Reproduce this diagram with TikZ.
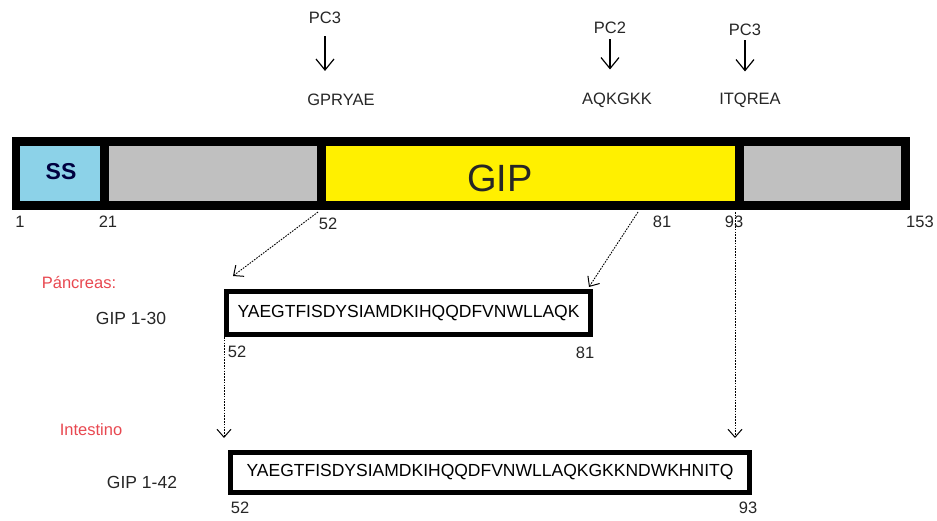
\documentclass[tikz,border=0pt]{standalone}
\usepackage{fontspec}
\setmainfont{Liberation Sans}
\usepackage{tikz}
\usetikzlibrary{calc,arrows.meta}
\definecolor{rojo}{RGB}{232,72,80}
\definecolor{celeste}{RGB}{140,210,232}
\definecolor{gris}{RGB}{192,192,192}
\definecolor{amarillo}{RGB}{255,240,0}

\begin{document}
\begin{tikzpicture}[x=1pt,y=-1pt,
  lbl/.style={inner sep=0pt, text=black!85, font=\fontsize{16.5}{18}\selectfont},
  seqbox/.style={draw, line width=5pt, inner sep=0pt, font=\fontsize{17.5}{20}\selectfont},
  tejido/.style={lbl, text=rojo},
  corte/.style={-{Straight Barb[length=11pt,width=18pt,line width=1.2pt]}, line width=1.3pt},
  punt/.style={-{Straight Barb[length=8pt,width=14pt,line width=1pt]}, line width=0.9pt, dash pattern=on 1.6pt off 1.2pt}]
  \useasboundingbox (0,0) rectangle (937,521);

  % precursor
  \fill[black] (12,137) rectangle (910,210);
  \fill[celeste] (20,146) rectangle (100,201);
  \fill[gris] (109,146) rectangle (317,201);
  \fill[amarillo] (326,146) rectangle (735,201);
  \fill[gris] (744,146) rectangle (901,201);
  \node[inner sep=0pt, font=\fontsize{23}{25}\selectfont\bfseries, text=black!75!blue] (ss) at (61,172) {SS};
  \node[inner sep=0pt, font=\fontsize{38}{42}\selectfont, text=black!85] (gip) at (500,178) {GIP};
  \node[lbl] (n1) at (20,222) {1};
  \node[lbl] (n21) at (108,222) {21};
  \node[lbl] (n52) at (328,224) {52};
  \node[lbl] (n81) at (662,222) {81};
  \node[lbl] (n93) at (734,222) {93};
  \node[lbl] (n153) at (920,222) {153};
  \coordinate (c52) at (318,212);
  \coordinate (c81) at (638,212);
  \coordinate (c93) at (735,212);

  % sitios de corte
  \node[lbl] (pcA) at (325,18) {PC3};
  \node[lbl] (sitA) at (341,100) {GPRYAE};
  \node[lbl] (pcB) at (610,28) {PC2};
  \node[lbl] (sitB) at (617,100) {AQKGKK};
  \node[lbl] (pcC) at (745,30) {PC3};
  \node[lbl] (sitC) at (750,100) {ITQREA};
  \draw[corte, shorten <=12pt, shorten >=23pt] (pcA.south) -- (pcA.south |- sitA.north);
  \draw[corte, shorten <=5pt, shorten >=23pt] (pcB.south) -- (pcB.south |- sitB.north);
  \draw[corte, shorten <=4pt, shorten >=21pt] (pcC.south) -- (pcC.south |- sitC.north);

  % pancreas
  \node[tejido] (panc) at (79,283) {Páncreas:};
  \node[lbl, font=\fontsize{17.5}{20}\selectfont] (g30) at (131,318) {GIP 1-30};
  \node[seqbox, minimum width=364pt, minimum height=43pt] (gip30) at (408.5,313) {YAEGTFISDYSIAMDKIHQQDFVNWLLAQK};
  \node[lbl] (a52) at (237,352) {52};
  \node[lbl] (a81) at (585,353) {81};
  \draw[punt] (c52) -- ($(gip30.north west)+(9,-13)$);
  \draw[punt] (c81) -- ($(gip30.north east)+(-4,-2)$);

  % intestino
  \node[tejido] (intes) at (91,430) {Intestino};
  \node[lbl, font=\fontsize{17.5}{20}\selectfont] (g42) at (142,482) {GIP 1-42};
  \node[seqbox, minimum width=519pt, minimum height=40pt] (gip42) at (490,472.5) {YAEGTFISDYSIAMDKIHQQDFVNWLLAQKGKKNDWKHNITQ};
  \node[lbl] (b52) at (240,508) {52};
  \node[lbl] (b93) at (748,508) {93};
  \draw[punt, shorten >=12pt] (gip30.south west) -- (gip30.south west |- gip42.north);
  \draw[punt, shorten >=12pt] (c93) -- (c93 |- gip42.north);
\end{tikzpicture}
\end{document}
